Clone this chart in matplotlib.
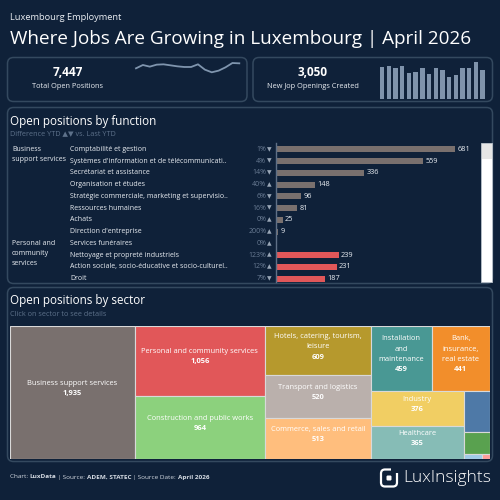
# Luxembourg employment dashboard
import numpy as np
import matplotlib
matplotlib.use('Agg')
import matplotlib.pyplot as plt
from matplotlib.patches import FancyBboxPatch, Rectangle
from matplotlib.transforms import blended_transform_factory

plt.rcParams['font.family'] = ['Open Sans', 'DejaVu Sans']

# Data
spark_values = [7222, 7372, 7297, 7387, 7402, 7357, 7312, 7282,
                7282, 7402, 7162, 7042, 7117, 7267, 7462, 7447]
new_openings = [207, 211, 202, 215, 168, 176, 198, 159,
                202, 187, 142, 153, 202, 202, 241, 185]

func_groups = ['Business support services'] * 8 + ['Personal and community services'] * 4
group_lines = {'Business support services': ['Business', 'support services'],
               'Personal and community services': ['Personal and', 'community', 'services']}
func_names = ['Comptabilité et gestion',
              "Systèmes d'information et de télécommunicati..",
              'Secrétariat et assistance',
              'Organisation et études',
              'Stratégie commerciale, marketing et supervisio..',
              'Ressources humaines',
              'Achats',
              "Direction d'entreprise",
              'Services funéraires',
              'Nettoyage et propreté industriels',
              'Action sociale, socio-éducative et socio-culturel..',
              'Droit']
func_values = [681, 559, 336, 148, 96, 81, 25, 9, 0, 239, 231, 187]
func_diff = [1, 4, 14, 40, 6, 16, 0, 200, 0, 123, 12, 7]
func_up = [False, False, False, True, False, False, True, True, True, True, True, False]

sector_names = ['Business support services', 'Personal and community services',
                'Construction and public works', 'Hotels, catering, tourism, leisure',
                'Transport and logistics', 'Commerce, sales and retail',
                'Installation and maintenance', 'Bank, insurance, real estate',
                'Industry', 'Healthcare', 'Agriculture and fishing',
                'Communication, media and multimedia', 'Performing arts', 'Other']
sector_labels = ['Business support services', 'Personal and community services',
                 'Construction and public works', 'Hotels, catering, tourism,\nleisure',
                 'Transport and logistics', 'Commerce, sales and retail',
                 'Installation\nand\nmaintenance', 'Bank,\ninsurance,\nreal estate',
                 'Industry', 'Healthcare', '', '', '', '']
sector_values = [1935, 1056, 964, 609, 520, 513, 459, 441, 376, 365, 125, 68, 11, 5]
sector_colors = ['#79706E', '#E15759', '#8CD17D', '#B6992D', '#BAB0AC', '#FFBE7D',
                 '#499894', '#F28E2B', '#F1CE63', '#86BCB6', '#4E79A7', '#59A14F',
                 '#A0CBE8', '#FF9D9A']
group_colors = {'Business support services': '#79706E',
                'Personal and community services': '#E15759'}

BG = '#0f2139'
BORDER = '#34495f'
TXT = '#e9edf2'
DIM = '#5d718a'

W, H = 500, 500
fig = plt.figure(figsize=(5, 5), dpi=100, facecolor=BG)
bg = fig.add_axes([0, 0, 1, 1])
bg.set_xlim(0, W)
bg.set_ylim(H, 0)
bg.axis('off')


def px_axes(x0, y0, x1, y1):
    a = fig.add_axes([x0 / W, 1 - y1 / H, (x1 - x0) / W, (y1 - y0) / H])
    a.set_facecolor('none')
    return a


def card(x0, y0, x1, y1):
    bg.add_patch(FancyBboxPatch((x0, y0), x1 - x0, y1 - y0,
                                boxstyle='round,pad=0,rounding_size=6',
                                fc=BG, ec=BORDER, lw=1.1))


def squarify(values, x0, y0, x1, y1, ratio=(1 + 5 ** 0.5) / 2):
    # d3 style squarified treemap
    rects = []
    i0, n = 0, len(values)
    value = float(sum(values))
    while i0 < n:
        dx, dy = x1 - x0, y1 - y0
        i1 = i0
        s = values[i1]
        i1 += 1
        vmin = vmax = s
        alpha = max(dy / dx, dx / dy) / (value * ratio)
        beta = s * s * alpha
        best = max(vmax / beta, beta / vmin)
        while i1 < n:
            v = values[i1]
            s += v
            vmin, vmax = min(vmin, v), max(vmax, v)
            beta = s * s * alpha
            r = max(vmax / beta, beta / vmin)
            if r > best:
                s -= v
                break
            best = r
            i1 += 1
        row = values[i0:i1]
        if dx < dy:
            h = dy * s / value
            xx = x0
            for v in row:
                w = dx * v / s
                rects.append((xx, y0, w, h))
                xx += w
            y0 += h
        else:
            w = dx * s / value
            yy = y0
            for v in row:
                h = dy * v / s
                rects.append((x0, yy, w, h))
                yy += h
            x0 += w
        value -= s
        i0 = i1
    return rects


# Header
bg.text(10, 18, 'Luxembourg Employment', fontsize=6.7, color=TXT, va='center')
bg.text(10, 38.5, 'Where Jobs Are Growing in Luxembourg | April 2026',
        fontsize=13.6, color='white', va='center')

# KPI cards
card(7.5, 57.5, 247, 101.5)
card(253, 57.5, 492.5, 101.5)
bg.text(67.5, 73, '7,447', fontsize=8.5, weight='bold', color='white', ha='center', va='center')
bg.text(67.5, 87, 'Total Open Positions', fontsize=5.3, color=TXT, ha='center', va='center')
bg.text(312.5, 73, '3,050', fontsize=8.5, weight='bold', color='white', ha='center', va='center')
bg.text(312.5, 87, 'New Jop Openings Created', fontsize=5.3, color=TXT, ha='center', va='center')

sp = px_axes(136, 63, 239.3, 72.3)
sp.plot(range(len(spark_values)), spark_values, color='#7f95ae', lw=1.3, clip_on=False)
sp.set_xlim(0, len(spark_values) - 1)
sp.set_ylim(min(spark_values), max(spark_values))
sp.axis('off')

kb = px_axes(378.8, 58.7, 486, 99)
kb.bar(range(len(new_openings)), new_openings, width=0.65, color='#7f93ab')
kb.set_xlim(-0.5, len(new_openings) - 0.5)
kb.set_ylim(0, 260)
kb.axis('off')

# Open positions by function
card(7.5, 107.5, 492.5, 283.5)
bg.text(10, 121, 'Open positions by function', fontsize=8.4, color='white', va='center')
bg.text(10, 133.3, 'Difference YTD ▲▼ vs. Last YTD', fontsize=5.2, color=DIM, va='center')

ax = px_axes(276, 143.4, 476, 282)
rows = np.arange(len(func_values))
ax.barh(rows, func_values, height=0.52, color=[group_colors[g] for g in func_groups])
ax.set_xlim(0, 760)
ax.set_ylim(11.28, -0.5)
for s in ['top', 'right', 'bottom']:
    ax.spines[s].set_visible(False)
ax.spines['left'].set_color('#5f7087')
ax.spines['left'].set_linewidth(1)
ax.set_xticks([])
ax.set_yticks([])

trans = blended_transform_factory(bg.transData, ax.transData)
row_px = (282 - 143.4) / 11.78
for i, name in enumerate(func_names):
    ax.text(70, i, name, transform=trans, fontsize=5, color=TXT, va='center', clip_on=False)
    ax.text(266.3, i, f'{func_diff[i]}%', transform=trans, fontsize=5, color='#6a7c94',
            ha='right', va='center', clip_on=False)
    ax.text(266.6, i, '▲' if func_up[i] else '▼', transform=trans, fontsize=4.3,
            color='#9aa7b7', ha='left', va='center', family='DejaVu Sans', clip_on=False)
    if func_values[i] > 0:
        ax.annotate(str(func_values[i]), (func_values[i], i), xytext=(1.6, 0),
                    textcoords='offset points', fontsize=5.3, color=TXT, va='center')
for i, g in enumerate(func_groups):
    if i == 0 or func_groups[i - 1] != g:
        for k, line in enumerate(group_lines[g]):
            ax.text(12, i + k * 10 / row_px, line, transform=trans, fontsize=5,
                    color=TXT, va='center', clip_on=False)

# scrollbar
bg.add_patch(Rectangle((481, 143.3), 11, 139, fc='white', ec='#b8c0c9', lw=0.6))
bg.add_patch(Rectangle((481.5, 143.8), 10, 15, fc='#e6e6e6', ec='none'))

# Open positions by sector
card(7.5, 287.5, 492.5, 461.5)
bg.text(10, 300.7, 'Open positions by sector', fontsize=8.4, color='white', va='center')
bg.text(10, 314, 'Click on sector to see details', fontsize=5.2, color=DIM, va='center')

TW, TH = 480, 133.3
tm = px_axes(10, 326, 10 + TW, 326 + TH)
tm.set_xlim(0, TW)
tm.set_ylim(TH, 0)
tm.axis('off')
for (x, y, w, h), lab, v, c in zip(squarify(sector_values, 0, 0, TW, TH),
                                   sector_labels, sector_values, sector_colors):
    tm.add_patch(Rectangle((x, y), w, h, fc=c, ec='#d9d9d9', lw=0.8))
    if not lab or w < 40 or h < 25:
        continue
    lines = lab.split('\n') + [f'{v:,}']
    cx, cy = x + w / 2, y + h / 2 - 4
    for k, line in enumerate(lines):
        ly = cy + (k - (len(lines) - 1) / 2) * 10.3
        tm.text(cx, ly, line, fontsize=5.4, color='white', ha='center', va='center',
                weight='bold' if k == len(lines) - 1 else 'normal')

# Footer
r = fig.canvas.get_renderer()
x = 10
for part, wt in [('Chart: ', 'normal'), ('LuxData', 'bold'), (' | Source: ', 'normal'),
                 ('ADEM, STATEC', 'bold'), (' | Source Date: ', 'normal'), ('April 2026', 'bold')]:
    t = bg.text(x, 477, part, fontsize=4.6, color='#d5dbe3', weight=wt, va='center')
    x = t.get_window_extent(r).x1

# Logo
bg.add_patch(FancyBboxPatch((381, 469.5), 16, 17, boxstyle='round,pad=0,rounding_size=4',
                            fc='none', ec='white', lw=1.6))
bg.add_patch(Rectangle((391, 467), 8, 6, fc=BG, ec='none'))
bg.add_patch(FancyBboxPatch((386.5, 475.5), 5, 5, boxstyle='round,pad=0,rounding_size=1.2',
                            fc='white', ec='none'))
bg.text(403, 478.5, 'LuxInsights', fontsize=12.5, color='white', weight='light', va='center')

fig.savefig('out.png', dpi=100, facecolor=BG)
